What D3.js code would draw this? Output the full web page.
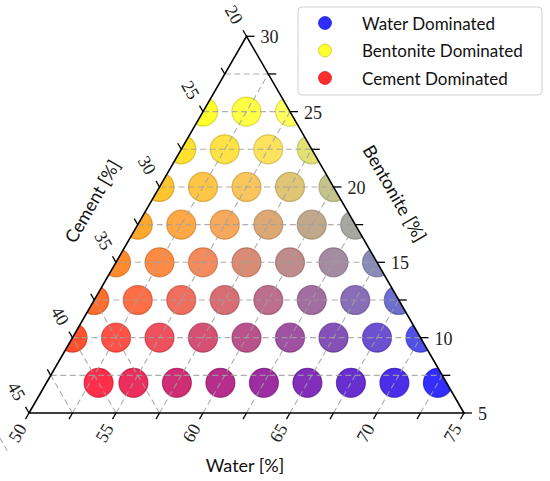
<!DOCTYPE html>
<html lang="en">
<head>
<meta charset="UTF-8">
<title>Ternary mix</title>
<script src="https://d3js.org/d3.v7.min.js"></script>
<style>
  body { margin: 0; background: #fff; }
  .tick-label { font-family: "Liberation Serif", serif; font-size: 18px; fill: #222; }
  .axis-title { font-family: Lato, "Open Sans", sans-serif; font-size: 18px; fill: #111; }
  .legend-text { font-family: Lato, "Open Sans", sans-serif; font-size: 17px; fill: #111; }
</style>
</head>
<body>
<svg id="chart" width="550" height="481"></svg>
<script>
  // rows of mixes, one per bentonite level; water values
  const rowBentonite = [25, 22.5, 20, 17.5, 15, 12.5, 10, 7];
  const rowWater = [
    [50, 52.5, 55],
    [50, 52.5, 55, 57.5],
    [50, 52.5, 55, 57.5, 60],
    [50, 52.5, 55, 57.5, 60, 62.5],
    [50, 52.5, 55, 57.5, 60, 62.5, 65],
    [50, 52.5, 55, 57.5, 60, 62.5, 65, 67.5],
    [50, 52.5, 55, 57.5, 60, 62.5, 65, 67.5, 70],
    [53, 55, 57.5, 60, 62.5, 65, 67.5, 70, 72.5]
  ];
  const waterRange = [50, 75];
  const bentoniteRange = [5, 30];
  const cementRange = [20, 45];
  const gridSteps = [7.5, 10, 12.5, 15, 17.5, 20, 22.5, 25, 27.5];
  const tickSteps = [0, 2.5, 5, 7.5, 10, 12.5, 15, 17.5, 20, 22.5, 25];
  const labelSteps = [0, 5, 10, 15, 20, 25];
  const legendItems = ["Water Dominated", "Bentonite Dominated", "Cement Dominated"];
  const legendColors = ["#0000ff", "#ffff00", "#ff0000"];

  const points = [];
  rowBentonite.forEach((b, i) => {
    rowWater[i].forEach(w => points.push({ water: w, bentonite: b, cement: 100 - w - b }));
  });

  const svg = d3.select("#chart");
  const left = 29, right = 464, bottom = 413;
  const side = right - left;
  const h = side * Math.sqrt(3) / 2;

  const wS = d3.scaleLinear().domain(waterRange).range([0, 1]);
  const bS = d3.scaleLinear().domain(bentoniteRange).range([0, 1]);
  const cS = d3.scaleLinear().domain(cementRange).range([0, 1]);

  // colour weights scaled over the spread of the mixes
  const wC = d3.scaleLinear().domain(d3.extent(points, d => d.water)).range([0, 1]).clamp(true);
  const bC = d3.scaleLinear().domain(d3.extent(points, d => d.bentonite)).range([0, 1]).clamp(true);
  const cC = d3.scaleLinear().domain(d3.extent(points, d => d.cement)).range([0, 1]).clamp(true);
  function mixColor(d) {
    const w = wC(d.water), b = bC(d.bentonite), c = cC(d.cement);
    return d3.rgb(255 * Math.min(1, b + c), 255 * b, 255 * w);
  }

  // position from normalised water / bentonite share
  function pos(w, b) {
    return [left + side * (w + b / 2), bottom - h * b];
  }
  function mixPos(d) {
    return pos(wS(d.water), bS(d.bentonite));
  }

  const A = pos(0, 0), B = pos(1, 0), T = pos(0, 1);

  svg.append("clipPath").attr("id", "tri")
    .append("polygon")
    .attr("points", [A, B, T].map(p => p.join(",")).join(" "));

  // points
  svg.append("g").attr("clip-path", "url(#tri)")
    .selectAll("circle").data(points).enter()
    .append("circle")
    .attr("cx", d => mixPos(d)[0])
    .attr("cy", d => mixPos(d)[1])
    .attr("r", 14.5)
    .attr("fill", mixColor)
    .attr("fill-opacity", 0.82)
    .attr("stroke", d => mixColor(d).darker(0.7))
    .attr("stroke-opacity", 0.6)
    .attr("stroke-width", 1.2);

  // dashed grid on top
  const grid = svg.append("g")
    .attr("stroke", "#a0a0a0").attr("stroke-opacity", 0.85)
    .attr("stroke-width", 1.1).attr("stroke-dasharray", "6,3.5").attr("fill", "none");
  const line = d3.line();
  gridSteps.forEach(v => {
    const b = bS(v);      // constant bentonite: horizontal
    grid.append("path").attr("d", line([pos(0, b), pos(1 - b, b)]));
  });
  gridSteps.map(v => v + 45).forEach(v => {
    const w = wS(v);      // constant water
    grid.append("path").attr("d", line([pos(w, 0), pos(w, 1 - w)]));
  });
  gridSteps.map(v => 65 - v).forEach(v => {
    const c = cS(v);      // constant cement
    grid.append("path").attr("d", line([pos(1 - c, 0), pos(0, 1 - c)]));
  });

  // triangle frame
  svg.append("polygon")
    .attr("points", [A, B, T].map(p => p.join(",")).join(" "))
    .attr("fill", "none").attr("stroke", "#000").attr("stroke-width", 1.6);

  const ticks = svg.append("g").attr("stroke", "#000").attr("stroke-width", 1.3);
  const tl = 7;
  const dirBottom = [-0.5, Math.sqrt(3) / 2];
  const dirLeft = [-0.5, -Math.sqrt(3) / 2];

  tickSteps.forEach(s => {
    // water ticks along bottom
    const pb = pos(wS(50 + s), 0);
    ticks.append("line").attr("x1", pb[0]).attr("y1", pb[1])
      .attr("x2", pb[0] + dirBottom[0] * tl).attr("y2", pb[1] + dirBottom[1] * tl);
    // bentonite ticks along right edge
    const b = bS(5 + s);
    const pr = pos(1 - b, b);
    ticks.append("line").attr("x1", pr[0]).attr("y1", pr[1])
      .attr("x2", pr[0] + tl + 1).attr("y2", pr[1]);
    // cement ticks along left edge
    const c = cS(20 + s);
    const pl = pos(0, 1 - c);
    ticks.append("line").attr("x1", pl[0]).attr("y1", pl[1])
      .attr("x2", pl[0] + dirLeft[0] * tl).attr("y2", pl[1] + dirLeft[1] * tl);
  });

  labelSteps.forEach(s => {
    const pb = pos(wS(50 + s), 0);
    const bx = pb[0] + dirBottom[0] * 23, by = pb[1] + dirBottom[1] * 23;
    svg.append("text").attr("class", "tick-label")
      .attr("text-anchor", "middle").attr("dominant-baseline", "central")
      .attr("transform", `translate(${bx},${by}) rotate(-60)`)
      .text(50 + s);

    const b = bS(5 + s);
    const pr = pos(1 - b, b);
    svg.append("text").attr("class", "tick-label")
      .attr("x", pr[0] + 14).attr("y", pr[1] + 1)
      .attr("dominant-baseline", "central")
      .text(5 + s);

    const c = cS(20 + s);
    const pl = pos(0, 1 - c);
    const lx = pl[0] + dirLeft[0] * 25, ly = pl[1] + dirLeft[1] * 25;
    svg.append("text").attr("class", "tick-label")
      .attr("text-anchor", "middle").attr("dominant-baseline", "central")
      .attr("transform", `translate(${lx},${ly}) rotate(60)`)
      .text(20 + s);
  });

  // axis titles
  svg.append("text").attr("class", "axis-title")
    .attr("text-anchor", "middle").attr("dominant-baseline", "central")
    .attr("transform", "translate(245,465)").text("Water [%]");
  svg.append("text").attr("class", "axis-title")
    .attr("text-anchor", "middle").attr("dominant-baseline", "central")
    .attr("transform", "translate(92,201) rotate(-60)").text("Cement [%]");
  svg.append("text").attr("class", "axis-title")
    .attr("text-anchor", "middle").attr("dominant-baseline", "central")
    .attr("transform", "translate(395,193) rotate(60)").text("Bentonite [%]");

  // legend
  const lg = svg.append("g");
  lg.append("rect").attr("x", 298).attr("y", 7).attr("width", 244).attr("height", 88)
    .attr("rx", 4).attr("fill", "#fff").attr("fill-opacity", 0.85)
    .attr("stroke", "#d0d0d0").attr("stroke-width", 1);
  legendItems.forEach((name, i) => {
    const y = 23 + i * 27.5;
    lg.append("circle").attr("cx", 325).attr("cy", y).attr("r", 6.5)
      .attr("fill", legendColors[i]).attr("fill-opacity", 0.82)
      .attr("stroke", d3.rgb(legendColors[i]).darker(0.8)).attr("stroke-opacity", 0.6);
    lg.append("text").attr("class", "legend-text")
      .attr("x", 362).attr("y", y).attr("dominant-baseline", "central")
      .text(name);
  });
</script>
</body>
</html>
